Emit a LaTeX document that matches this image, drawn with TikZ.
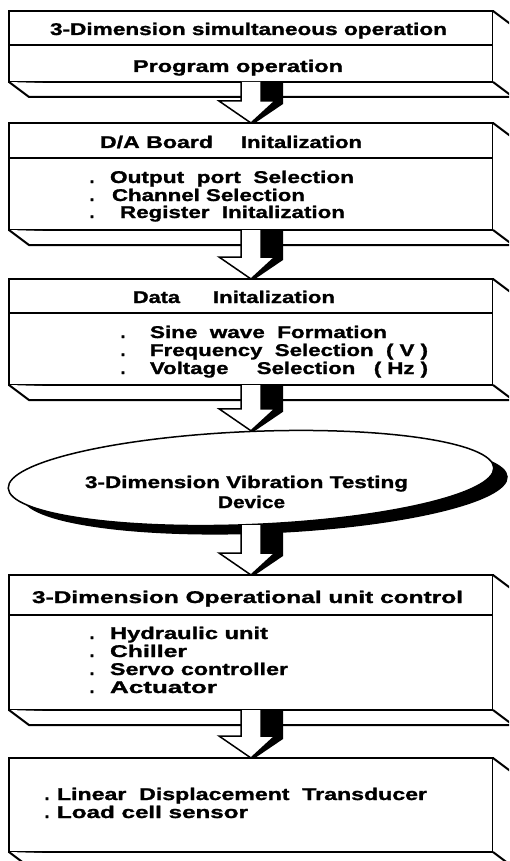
\documentclass[tikz,border=0pt]{standalone}
\usepackage{fontspec}
\setmainfont{Liberation Sans}[BoldFeatures={FakeBold=1.2}]
\usetikzlibrary{calc,shapes.geometric}
\newcommand\tw[2]{\resizebox{#1pt}{\height}{#2}}
\tikzset{
  lbl/.style={anchor=base west, inner sep=0pt, outer sep=0pt, font=\fontsize{17}{17}\selectfont\bfseries},
  bul/.style={anchor=base, inner sep=0pt, outer sep=0pt, font=\fontsize{17}{17}\selectfont\bfseries},
  front/.style={draw, line width=2.5pt, fill=white, minimum width=484pt, inner sep=0pt, outer sep=0pt},
  side/.style={draw, line width=2pt, fill=white, line join=miter},
  divider/.style={line width=1.5pt},
  arrowfront/.style={draw, fill=white, line width=1.5pt, line join=miter},
  arrowshade/.style={fill=black},
}
\newcommand\slab[1]{%
  \draw[side] (#1.north east) -- ++(20,15) -- ($(#1.south east)+(20,15)$) -- (#1.south east);
  \draw[side] (#1.south west) -- ++(20,15) -- ($(#1.south east)+(20,15)$);
}
\newcommand\barrow[2]{%
  \fill[arrowshade] let \p1=(#1), \p2=(#2), \p3=(b1.south) in
    ({\x3+9pt},\y1) -- ({\x3+32pt},\y1) -- ({\x3+32pt},{\y2+19pt}) -- ({\x3+4pt},{\y2})
    -- (\x3,\y2) -- ({\x3+24pt},{\y2+22pt}) -- ({\x3+9pt},{\y2+22pt}) -- cycle;
  \filldraw[arrowfront] let \p1=(#1), \p2=(#2), \p3=(b1.south) in
    ({\x3-10pt},\y1) -- ({\x3-10pt},{\y2+22pt}) -- ({\x3-32pt},{\y2+22pt}) -- (\x3,\y2)
    -- ({\x3+24pt},{\y2+22pt}) -- ({\x3+10pt},{\y2+22pt}) -- ({\x3+10pt},\y1);
}
\begin{document}
\begin{tikzpicture}[x=1pt,y=-1pt,line join=miter]
\useasboundingbox (0,0) rectangle (509,861);
\begin{scope}
\clip (0,0) rectangle (509,861);
% boxes
\node[front, minimum height=71pt]  (b1) at (251,46.5) {};
\slab{b1}
\draw[divider] ($(b1.north west)+(0,34)$) -- ($(b1.north east)+(0,34)$);
\node[front, minimum height=107pt] (b2) at (251,176.5) {};
\slab{b2}
\draw[divider] ($(b2.north west)+(0,35)$) -- ($(b2.north east)+(0,35)$);
\node[front, minimum height=106pt] (b3) at (251,332) {};
\slab{b3}
\draw[divider] ($(b3.north west)+(0,34)$) -- ($(b3.north east)+(0,34)$);
% ellipse
\fill[black, rotate around={2.4:(265,487)}] (265,487) ellipse [x radius=243, y radius=46.5];
\node[draw, ellipse, line width=1.5pt, fill=white, minimum width=486pt, minimum height=93pt, rotate=2.4, inner sep=0pt] (ell) at (251,478) {};
\node[front, minimum height=135pt] (b5) at (251,642.5) {};
\slab{b5}
\draw[divider] ($(b5.north west)+(0,40)$) -- ($(b5.north east)+(0,40)$);
\node[front, minimum height=94pt]  (b6) at (251,805) {};
\slab{b6}
% arrows
\barrow{b1.south}{b2.north}
\barrow{b2.south}{b3.north}
\barrow{b3.south}{ell.north}
\barrow{ell.south}{b5.north}
\barrow{b5.south}{b6.north}
% texts box 1
\node[lbl] (t1) at (50,35) {\tw{397}{3-Dimension simultaneous operation}};
\node[lbl] (t2) at (133,72) {\tw{210}{Program operation}};
% box 2
\node[lbl] (t3a) at (100,148) {\tw{113}{D/A Board}};
\node[lbl] (t3b) at (241,148) {\tw{121}{Initalization}};
\node[bul] (d21) at (92,183) {.};
\node[bul] (d22) at (92,201) {.};
\node[bul] (d23) at (92,218) {.};
\node[lbl] (t4) at (110,183) {\tw{244}{Output \ port \ Selection}};
\node[lbl] (t5) at (112,201) {\tw{193}{Channel Selection}};
\node[lbl] (t6) at (120,218) {\tw{225}{Register \ Initalization}};
% box 3
\node[lbl] (t7a) at (133,303) {\tw{47}{Data}};
\node[lbl] (t7b) at (213,303) {\tw{122}{Initalization}};
\node[bul] (d31) at (123,338) {.};
\node[bul] (d32) at (123,356) {.};
\node[bul] (d33) at (123,374) {.};
\node[lbl] (t8) at (150,338) {\tw{237}{Sine \ wave \ Formation}};
\node[lbl] (t9) at (150,356) {\tw{278}{Frequency \ Selection \ ( V )}};
\node[lbl] (t10) at (150,374) {\tw{278}{Voltage \quad Selection \ \ ( Hz )}};
% ellipse text
\node[lbl] (t11) at (85,488) {\tw{323}{3-Dimension Vibration Testing}};
\node[lbl] (t12) at (218,508) {\tw{67}{Device}};
% box 5
\node[lbl] (t13) at (32,603) {\tw{431}{3-Dimension Operational unit control}};
\node[bul] (d51) at (92,639) {.};
\node[bul] (d52) at (92,657) {.};
\node[bul] (d53) at (92,675) {.};
\node[bul] (d54) at (92,693) {.};
\node[lbl] (t14) at (110,639) {\tw{158}{Hydraulic unit}};
\node[lbl] (t15) at (110,657) {\tw{77}{Chiller}};
\node[lbl] (t16) at (110,675) {\tw{178}{Servo controller}};
\node[lbl] (t17) at (110,693) {\tw{107}{Actuator}};
% box 6
\node[bul] (d61) at (47,800) {.};
\node[bul] (d62) at (47,818) {.};
\node[lbl] (t18) at (57,800) {\tw{370}{Linear \ Displacement \ Transducer}};
\node[lbl] (t19) at (57,818) {\tw{191}{Load cell sensor}};
\end{scope}
\end{tikzpicture}
\end{document}
